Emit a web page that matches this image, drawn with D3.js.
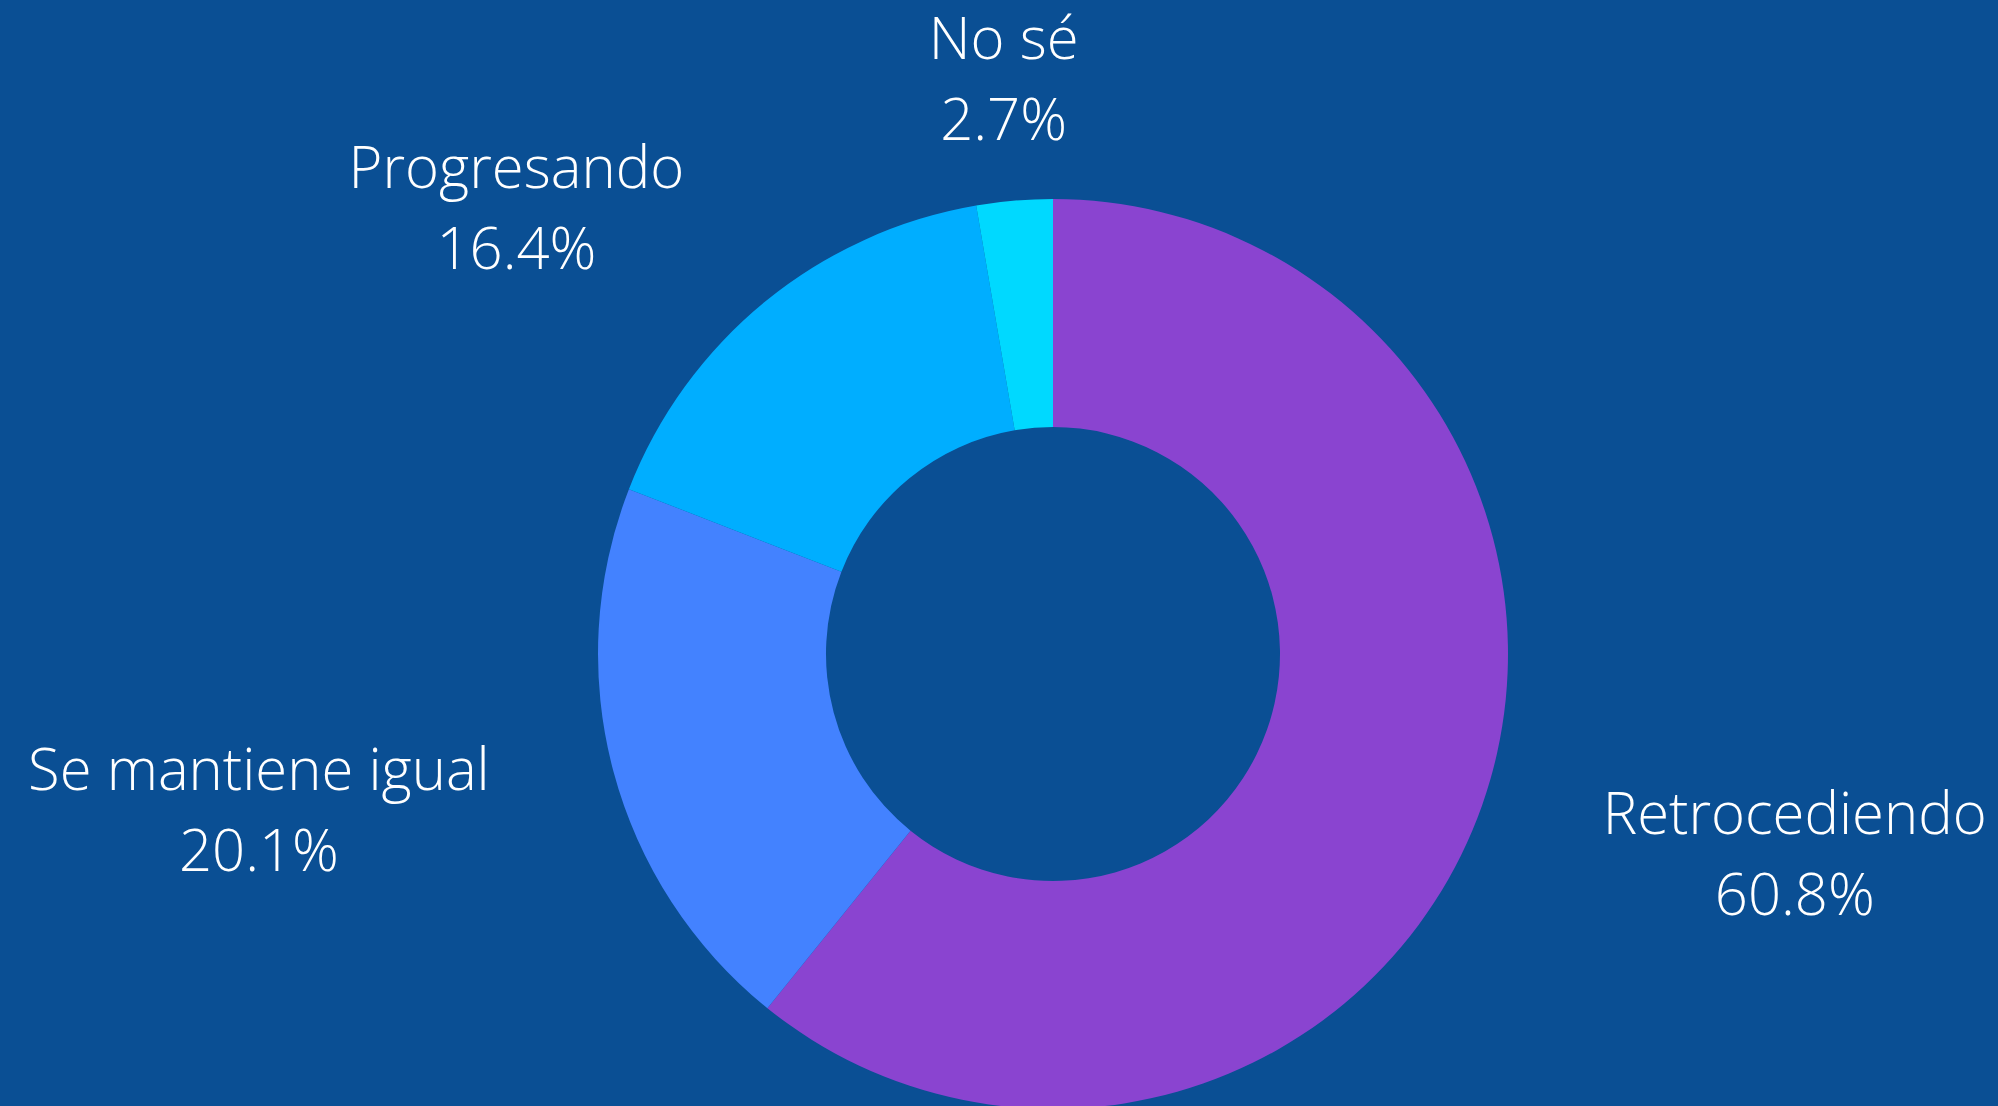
<!DOCTYPE html>
<html>
<head>
<meta charset="utf-8">
<script src="https://cdn.jsdelivr.net/npm/d3@7"></script>
<style>
  html, body { margin: 0; padding: 0; background: #0a4f94; overflow: hidden; }
  text { font-family: "Open Sans", sans-serif; font-weight: 300; fill: #fff; }
</style>
</head>
<body>
<svg id="chart"></svg>
<script>
// survey answers, clockwise from 12 o'clock
var categories = ['Retrocediendo', 'Se mantiene igual', 'Progresando', 'No sé'];
var values = [60.8, 20.1, 16.4, 2.7];
var colors = ['#8a44d0', '#4382ff', '#00aeff', '#00d9ff'];

var width = 1998, height = 1106;
var cx = 1053, cy = 654;
var outerR = 455, innerR = 227, labelR = 583;

var svg = d3.select('#chart')
  .attr('width', width)
  .attr('height', height);

svg.append('rect')
  .attr('width', width)
  .attr('height', height)
  .attr('fill', '#0a4f94');

var g = svg.append('g').attr('transform', 'translate(' + cx + ',' + cy + ')');

var data = categories.map(function(c, i) { return { name: c, value: values[i], color: colors[i] }; });

var pie = d3.pie().sort(null).value(function(d) { return d.value; });
var arc = d3.arc().innerRadius(innerR).outerRadius(outerR);
var arcs = pie(data);

g.selectAll('path.slice')
  .data(arcs)
  .enter()
  .append('path')
  .attr('class', 'slice')
  .attr('d', arc)
  .attr('fill', function(d) { return d.data.color; });

// labels: two centred lines, block placed outside the ring
var labels = g.selectAll('g.label')
  .data(arcs)
  .enter()
  .append('g')
  .attr('class', 'label');

labels.each(function(d) {
  var el = d3.select(this);
  var a = (d.startAngle + d.endAngle) / 2;
  var px = labelR * Math.sin(a), py = -labelR * Math.cos(a);

  var t1 = el.append('text').attr('font-size', 58).attr('text-anchor', 'middle').text(d.data.name);
  var t2 = el.append('text').attr('font-size', 58).attr('text-anchor', 'middle').text(d.data.value.toFixed(1) + '%');
  var w = Math.max(t1.node().getComputedTextLength(), t2.node().getComputedTextLength());

  var mid;
  if (Math.abs(Math.sin(a)) < 0.3) mid = px;
  else if (Math.sin(a) > 0) mid = px + w / 2;
  else mid = px - w / 2;

  t1.attr('x', mid).attr('y', py - 14);
  t2.attr('x', mid).attr('y', py + 67);
});
</script>
</body>
</html>
